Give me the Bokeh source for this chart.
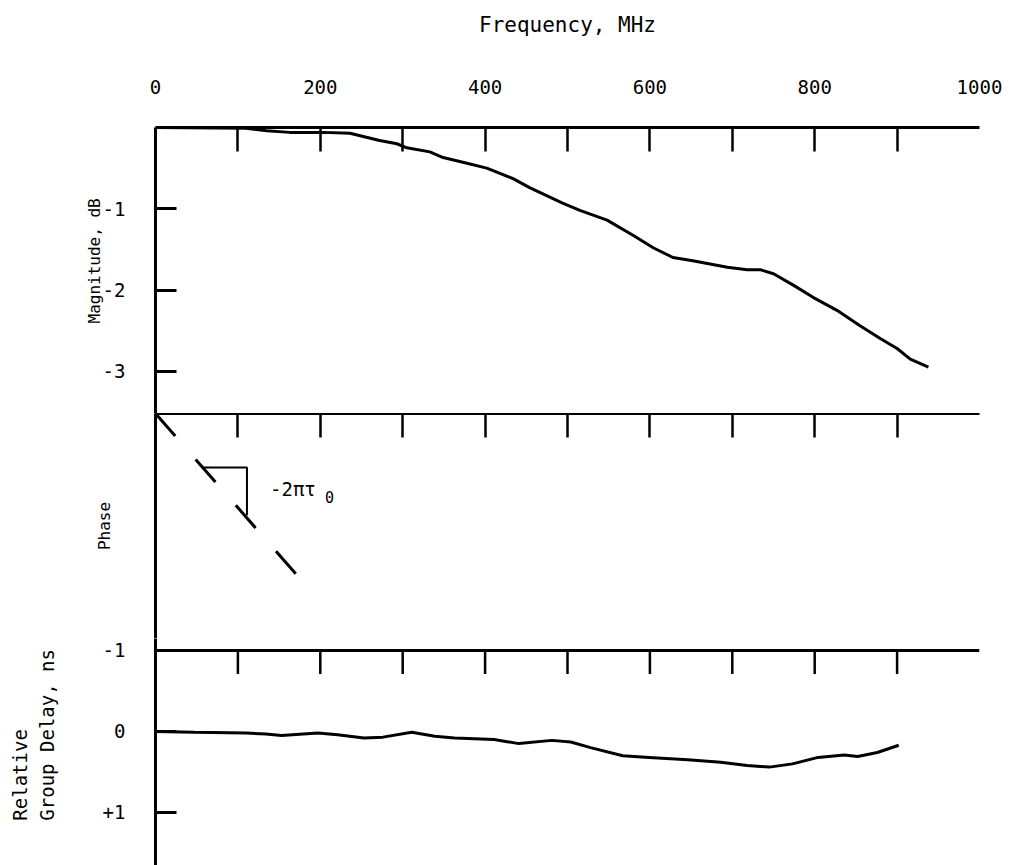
from bokeh.plotting import figure
from bokeh.models import Range1d, FixedTicker, LinearAxis, ColumnDataSource, Span
from bokeh.layouts import column
from bokeh.embed import file_html
from bokeh.resources import INLINE
from bokeh.core.properties import value

FONT = "DejaVu Sans Mono"
NB = "\u00a0"

# ---- data ----
freq_label_ticks = [0, 200, 400, 600, 800, 1000]
freq_minor_ticks = [100, 200, 300, 400, 500, 600, 700, 800, 900]

mag_ticks = [-1, -2, -3]
mag_tick_labels = {-1: "-1", -2: "-2", -3: "-3"}
gd_ticks = [-1, 0, 1]
gd_tick_labels = {-1: "-1", 0: "0", 1: "+1"}

mag_f = [0, 110, 135, 163, 203, 236, 272, 293, 305, 333, 349, 378, 402, 434, 454,
         494, 515, 548, 580, 604, 628, 652, 694, 718, 734, 750, 774, 798, 827, 855,
         880, 900, 916, 938]
mag_db = [0, -0.01, -0.04, -0.06, -0.06, -0.07, -0.16, -0.20, -0.25, -0.30, -0.37,
          -0.44, -0.50, -0.63, -0.74, -0.93, -1.02, -1.14, -1.33, -1.48, -1.60, -1.64,
          -1.72, -1.75, -1.75, -1.80, -1.94, -2.09, -2.25, -2.44, -2.60, -2.72, -2.85,
          -2.95]

phase_f = [0, 172]
phase_v = [0, -0.684]
slope_f = [58, 111, 111]
slope_v = [-0.228, -0.228, -0.43]
slope_label = ["-2πτ"]
slope_sub = ["0"]
slope_label_f = [139]
slope_label_v = [-0.317]

gd_f = [0, 47, 110, 134, 153, 197, 221, 253, 276, 311, 339, 363, 411, 441, 481, 504,
        528, 567, 599, 646, 686, 718, 745, 773, 804, 836, 852, 876, 902]
gd_ns = [0, 0.01, 0.02, 0.03, 0.05, 0.02, 0.04, 0.08, 0.07, 0.01, 0.06, 0.08, 0.10,
         0.15, 0.11, 0.13, 0.20, 0.30, 0.32, 0.35, 0.38, 0.42, 0.44, 0.40, 0.32, 0.29,
         0.31, 0.26, 0.17]
gd_top = -1
gd_tick_len = 0.29   # length of the hanging frequency ticks, in ns units

xr = Range1d(0, 1000)


def make_fig(h, yr, top):
    p = figure(width=1009, height=h, x_range=xr, y_range=yr,
               x_axis_location=None, y_axis_location=None,
               output_backend="svg", toolbar_location=None,
               min_border_left=155, min_border_right=30,
               min_border_top=top, min_border_bottom=0)
    p.outline_line_color = None
    p.grid.grid_line_color = None
    p.background_fill_color = "white"
    p.border_fill_color = "white"
    return p


def top_axis(p, with_labels, title=None):
    ticker = FixedTicker(ticks=freq_label_ticks if with_labels else [],
                         minor_ticks=freq_minor_ticks)
    ax = LinearAxis(ticker=ticker)
    ax.axis_line_width = 3
    ax.axis_line_color = "black"
    ax.major_tick_in = 0
    ax.major_tick_out = 0
    ax.minor_tick_in = 24
    ax.minor_tick_out = 0
    ax.minor_tick_line_width = 2.5
    ax.minor_tick_line_color = "black"
    ax.major_label_standoff = 34 if with_labels else 0
    ax.major_label_text_font = FONT
    ax.major_label_text_font_size = "19px"
    ax.major_label_text_color = "black"
    if title:
        ax.axis_label = title
        ax.axis_label_text_font = FONT
        ax.axis_label_text_font_size = "21px"
        ax.axis_label_text_font_style = "normal"
        ax.axis_label_text_color = "black"
        ax.axis_label_standoff = 40
    p.add_layout(ax, "above")


def left_axis(p, ticks, label, label_standoff, label_size, overrides=None):
    ax = LinearAxis(ticker=FixedTicker(ticks=ticks))
    ax.axis_line_width = 3
    ax.axis_line_color = "black"
    ax.major_tick_in = 21
    ax.major_tick_out = 0
    ax.major_tick_line_width = 3
    ax.minor_tick_line_color = None
    ax.major_label_standoff = 30
    ax.major_label_text_font = FONT
    ax.major_label_text_font_size = "19px"
    ax.major_label_text_color = "black"
    if overrides:
        ax.major_label_overrides = overrides
    ax.axis_label = label
    ax.axis_label_text_font = FONT
    ax.axis_label_text_font_size = label_size
    ax.axis_label_text_font_style = "normal"
    ax.axis_label_text_color = "black"
    ax.axis_label_standoff = label_standoff
    p.add_layout(ax, "left")


# ---- Magnitude panel ----
p1 = make_fig(413, Range1d(-3.52, 0), 127)
top_axis(p1, True, "Frequency, MHz")
left_axis(p1, mag_ticks, NB * 2 + "Magnitude, dB", -4, "16px", mag_tick_labels)
p1.line(mag_f, mag_db, line_color="black", line_width=3)

# ---- Phase panel ----
p2 = make_fig(225, Range1d(-0.95, 0), 0)
top_axis(p2, False)
left_axis(p2, [], "Phase", 42, "16px")
p2.line(phase_f, phase_v, line_color="black", line_width=3, line_dash="30 31")
p2.line(slope_f, slope_v, line_color="black", line_width=2)
src = ColumnDataSource(dict(x=slope_label_f, y=slope_label_v, t=slope_label, s=slope_sub))
p2.text(x="x", y="y", text="t", source=src, text_font=value(FONT),
        text_font_size="19px", text_color="black", text_align="left",
        text_baseline="middle")
p2.text(x="x", y="y", text="s", source=src, text_font=value(FONT),
        text_font_size="15px", text_color="black", text_align="left",
        text_baseline="middle", x_offset=55, y_offset=8)

# ---- Relative group delay panel ----
p3 = make_fig(227, Range1d(1.654, -1.147), 0)
left_axis(p3, gd_ticks, NB * 3 + "Relative       \n" + NB * 3 + "Group Delay, ns",
          42, "19px", gd_tick_labels)
p3.add_layout(Span(location=gd_top, dimension="width", line_color="black", line_width=3))
tick_src = ColumnDataSource(dict(
    x=freq_minor_ticks,
    y0=[gd_top] * len(freq_minor_ticks),
    y1=[gd_top + gd_tick_len] * len(freq_minor_ticks)))
p3.segment(x0="x", y0="y0", x1="x", y1="y1", source=tick_src,
           line_color="black", line_width=2.5)
p3.line(gd_f, gd_ns, line_color="black", line_width=3)

layout = column(p1, p2, p3, spacing=0)
open("out.html", "w").write(file_html(layout, INLINE))
